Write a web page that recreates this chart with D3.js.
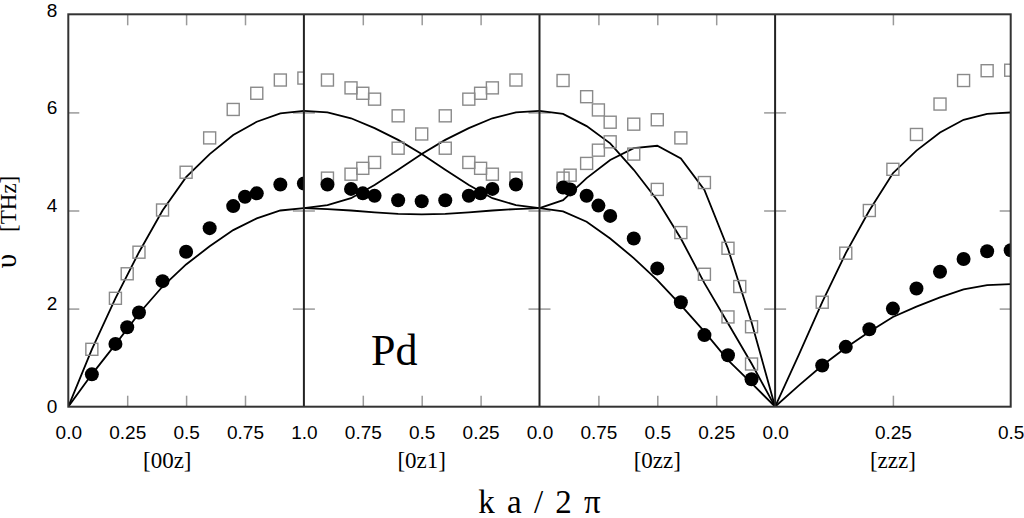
<!DOCTYPE html>
<html>
<head>
<meta charset="utf-8">
<script src="https://cdn.jsdelivr.net/npm/d3@7"></script>
<style>
  html, body { margin: 0; padding: 0; background: #fff; }
  svg { display: block; }
</style>
</head>
<body>
<div id="chart"></div>
<script>
// Panels (Brillouin zone directions) and their z ranges
const panelNames = ["[00z]", "[0z1]", "[0zz]", "[zzz]"];
const panelDomains = [[0, 1], [1, 0], [1, 0], [0, 0.5]];
const panelTicks = [[0.25, 0.5, 0.75], [0.75, 0.5, 0.25], [0.75, 0.5, 0.25], [0.25]];
const panelTickLabels = [[0, 0.25, 0.5, 0.75, 1], [0.75, 0.5, 0.25, 0], [0.75, 0.5, 0.25], [0, 0.25, 0.5]];
const panelLabelAt = [0.42, 0.5, 0.5, 0.25]; // z where the direction label sits
const yTicks = [0, 2, 4, 6, 8];

// Calculated dispersion curves (THz)
const zGrid = [0, 0.1, 0.2, 0.3, 0.4, 0.5, 0.6, 0.7, 0.8, 0.9, 1.0];
const zGridRev = [1.0, 0.9, 0.8, 0.7, 0.6, 0.5, 0.4, 0.3, 0.2, 0.1, 0];
const zGridHalf = [0, 0.05, 0.1, 0.15, 0.2, 0.25, 0.3, 0.35, 0.4, 0.45, 0.5];

const curve00zL = [0, 1.17, 2.21, 3.15, 4.0, 4.68, 5.15, 5.54, 5.81, 5.98, 6.03];
const curve00zT = [0, 0.66, 1.27, 1.9, 2.45, 2.9, 3.27, 3.6, 3.84, 4.0, 4.05];
const curve0z1A = [6.03, 6.0, 5.88, 5.68, 5.44, 5.15, 4.83, 4.52, 4.25, 4.11, 4.05];
const curve0z1B = [4.05, 4.11, 4.25, 4.52, 4.83, 5.15, 5.44, 5.68, 5.88, 6.0, 6.03];
const curve0z1C = [4.05, 4.03, 4.0, 3.96, 3.93, 3.92, 3.93, 3.96, 4.0, 4.03, 4.05];
const curve0zzA = [6.03, 5.97, 5.72, 5.37, 4.83, 4.21, 3.43, 2.52, 1.7, 0.88, 0];
const curve0zzB = [4.05, 4.21, 4.66, 5.03, 5.27, 5.32, 5.06, 4.42, 3.22, 1.72, 0];
const curve0zzC = [4.05, 3.98, 3.77, 3.43, 3.03, 2.58, 2.07, 1.53, 0.95, 0.48, 0];
const curvezzzL = [0, 1.05, 2.13, 3.13, 4.0, 4.76, 5.22, 5.59, 5.85, 5.97, 6.0];
const curvezzzT = [0, 0.43, 0.84, 1.2, 1.53, 1.83, 2.04, 2.23, 2.39, 2.48, 2.5];

// Measured points [z, THz]
const squares00z = [[0.1, 1.17], [0.2, 2.21], [0.25, 2.71], [0.3, 3.15], [0.4, 4.01], [0.5, 4.78],
  [0.6, 5.48], [0.7, 6.06], [0.8, 6.39], [0.9, 6.66], [1.0, 6.7]];
const circles00z = [[0.1, 0.66], [0.2, 1.28], [0.25, 1.62], [0.3, 1.92], [0.4, 2.56], [0.5, 3.16],
  [0.6, 3.64], [0.7, 4.09], [0.75, 4.28], [0.8, 4.35], [0.9, 4.53], [1.0, 4.55]];
const squares0z1 = [[0.9, 6.66], [0.8, 6.5], [0.75, 6.39], [0.7, 6.27], [0.6, 5.93], [0.5, 5.56],
  [0.4, 5.93], [0.3, 6.27], [0.25, 6.39], [0.2, 6.5], [0.1, 6.66],
  [0.9, 4.66], [0.8, 4.74], [0.75, 4.86], [0.7, 4.98], [0.6, 5.27],
  [0.4, 5.27], [0.3, 4.98], [0.25, 4.86], [0.2, 4.74], [0.1, 4.66]];
const circles0z1 = [[0.9, 4.53], [0.8, 4.44], [0.75, 4.35], [0.7, 4.3], [0.6, 4.21], [0.5, 4.19],
  [0.4, 4.21], [0.3, 4.3], [0.25, 4.35], [0.2, 4.44], [0.1, 4.53]];
const squares0zz = [[0.9, 6.65], [0.8, 6.32], [0.75, 6.05], [0.7, 5.8], [0.6, 5.76], [0.5, 5.85],
  [0.4, 5.48], [0.3, 4.57], [0.4, 3.55], [0.2, 3.23], [0.15, 2.45], [0.1, 1.63],
  [0.1, 0.87], [0.3, 2.7], [0.2, 1.83],
  [0.9, 4.66], [0.87, 4.72], [0.8, 4.96], [0.75, 5.23], [0.7, 5.4], [0.6, 5.15], [0.5, 4.43]];
const circles0zz = [[0.9, 4.47], [0.87, 4.43], [0.8, 4.3], [0.75, 4.1], [0.7, 3.89], [0.6, 3.43],
  [0.5, 2.82], [0.4, 2.13], [0.3, 1.46], [0.2, 1.05], [0.1, 0.56]];
const squareszzz = [[0.1, 2.13], [0.15, 3.13], [0.2, 4.0], [0.25, 4.84], [0.3, 5.55], [0.35, 6.17],
  [0.4, 6.65], [0.45, 6.85], [0.5, 6.86]];
const circleszzz = [[0.1, 0.84], [0.15, 1.22], [0.2, 1.58], [0.25, 2.0], [0.3, 2.41], [0.35, 2.75],
  [0.4, 3.01], [0.45, 3.17], [0.5, 3.19]];

// Group per panel for drawing
const panelCurves = [
  [[zGrid, curve00zL], [zGrid, curve00zT]],
  [[zGridRev, curve0z1A], [zGridRev, curve0z1B], [zGridRev, curve0z1C]],
  [[zGridRev, curve0zzA], [zGridRev, curve0zzB], [zGridRev, curve0zzC]],
  [[zGridHalf, curvezzzL], [zGridHalf, curvezzzT]]
];
const panelSquares = [squares00z, squares0z1, squares0zz, squareszzz];
const panelCircles = [circles00z, circles0z1, circles0zz, circleszzz];

const width = 1024, height = 518;
const margin = { top: 14.3, right: 13.3, bottom: 111.3, left: 68.3 };
const innerWidth = width - margin.left - margin.right;
const innerHeight = height - margin.top - margin.bottom;
const panelW = innerWidth / panelNames.length;
const tickLen = 11;
const sansFont = "Liberation Sans, Arial, sans-serif";
const serifFont = "Liberation Serif, Times New Roman, serif";

const svg = d3.select("#chart").append("svg")
  .attr("width", width).attr("height", height)
  .attr("viewBox", `0 0 ${width} ${height}`);

const defs = svg.append("defs");

const inner = svg.append("g")
  .attr("transform", `translate(${margin.left},${margin.top})`);

const yScale = d3.scaleLinear().domain([0, 8]).range([innerHeight, 0]);

// Y tick labels
inner.append("g")
  .call(d3.axisLeft(yScale).tickValues(yTicks).tickSize(0).tickPadding(11).tickFormat(d3.format("d")))
  .attr("font-family", sansFont)
  .attr("font-size", 19)
  .call(g => g.select(".domain").remove())
  .call(g => g.selectAll("text")
    .attr("fill", "#000")
    .attr("dy", d => d === 0 ? "0.32em" : d === 8 ? "0.1em" : "0.05em"));

panelNames.forEach((name, i) => {
  const x0 = i * panelW, x1 = (i + 1) * panelW;
  const xScale = d3.scaleLinear().domain(panelDomains[i]).range([x0, x1]);
  const g = inner.append("g");

  defs.append("clipPath").attr("id", `clip${i}`)
    .append("rect").attr("x", x0).attr("y", 0).attr("width", panelW).attr("height", innerHeight);

  // inward ticks on top and bottom
  g.append("g")
    .attr("transform", `translate(0,${innerHeight})`)
    .call(d3.axisBottom(xScale).tickValues(panelTicks[i]).tickSize(-tickLen).tickFormat(""))
    .call(a => a.select(".domain").remove())
    .call(a => a.selectAll("line").attr("stroke", "#9a9a9a").attr("stroke-width", 1.5));
  g.append("g")
    .call(d3.axisTop(xScale).tickValues(panelTicks[i]).tickSize(-tickLen).tickFormat(""))
    .call(a => a.select(".domain").remove())
    .call(a => a.selectAll("line").attr("stroke", "#9a9a9a").attr("stroke-width", 1.5));

  // inward y ticks on both sides of each panel
  [x0, x1].forEach((xe, k) => {
    g.append("g")
      .attr("transform", `translate(${xe},0)`)
      .call((k === 0 ? d3.axisRight(yScale) : d3.axisLeft(yScale))
        .tickValues([2, 4, 6]).tickSize(tickLen).tickFormat(""))
      .call(a => a.select(".domain").remove())
      .call(a => a.selectAll("line").attr("stroke", "#9a9a9a").attr("stroke-width", 1.5));
  });

  // tick labels
  g.append("g")
    .attr("transform", `translate(0,${innerHeight})`)
    .call(d3.axisBottom(xScale).tickValues(panelTickLabels[i]).tickSize(0).tickPadding(19)
      .tickFormat(d => d === 0 ? "0.0" : d === 1 ? "1.0" : String(d)))
    .attr("font-family", sansFont)
    .attr("font-size", 19)
    .call(a => a.select(".domain").remove())
    .call(a => a.selectAll("text").attr("fill", "#000"));

  // direction label
  svg.append("text")
    .attr("x", margin.left + xScale(panelLabelAt[i]))
    .attr("y", 468)
    .attr("text-anchor", "middle")
    .attr("font-family", serifFont)
    .attr("font-size", 23)
    .text(name);

  const marks = g.append("g").attr("clip-path", `url(#clip${i})`);

  const line = d3.line().x(d => xScale(d[0])).y(d => yScale(d[1]));
  panelCurves[i].forEach(([zs, vs]) => {
    marks.append("path")
      .datum(zs.map((z, j) => [z, vs[j]]))
      .attr("d", line)
      .attr("fill", "none")
      .attr("stroke", "#000")
      .attr("stroke-width", 1.8);
  });

  marks.selectAll("rect.sq")
    .data(panelSquares[i])
    .join("rect")
      .attr("class", "sq")
      .attr("x", d => xScale(d[0]) - 6)
      .attr("y", d => yScale(d[1]) - 6)
      .attr("width", 12)
      .attr("height", 12)
      .attr("fill", "none")
      .attr("stroke", "#8a8a8a")
      .attr("stroke-width", 1.4);

  marks.selectAll("circle")
    .data(panelCircles[i])
    .join("circle")
      .attr("cx", d => xScale(d[0]))
      .attr("cy", d => yScale(d[1]))
      .attr("r", 7)
      .attr("fill", "#000");
});

// panel dividers and frame
d3.range(1, panelNames.length).forEach(k => {
  inner.append("line")
    .attr("x1", k * panelW).attr("x2", k * panelW)
    .attr("y1", 0).attr("y2", innerHeight)
    .attr("stroke", "#222").attr("stroke-width", 2);
});
inner.append("rect")
  .attr("width", innerWidth).attr("height", innerHeight)
  .attr("fill", "none").attr("stroke", "#333").attr("stroke-width", 2);

// element label
svg.append("text")
  .attr("x", 371).attr("y", 365)
  .attr("font-family", serifFont)
  .attr("font-size", 44)
  .text("Pd");

// axis titles
svg.append("text")
  .attr("x", margin.left + innerWidth / 2).attr("y", 513)
  .attr("text-anchor", "middle")
  .attr("font-family", serifFont)
  .attr("font-size", 33)
  .attr("word-spacing", 4)
  .text("k a / 2 π");

const yTitle = svg.append("text")
  .attr("transform", "translate(16,222) rotate(-90)")
  .attr("text-anchor", "middle")
  .attr("font-family", serifFont)
  .attr("font-size", 23);
yTitle.append("tspan").attr("font-size", 29).text("υ");
yTitle.append("tspan").attr("dx", 22).text("[THz]");
</script>
</body>
</html>
